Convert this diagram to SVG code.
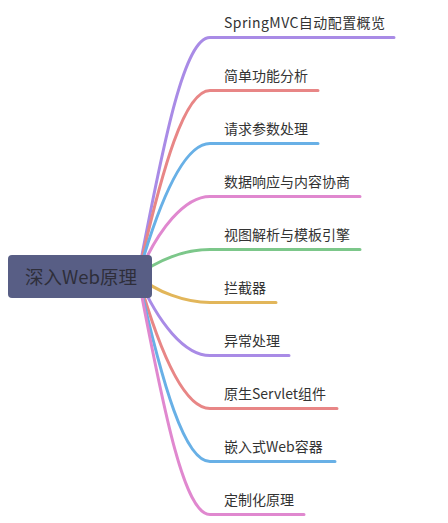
<svg xmlns="http://www.w3.org/2000/svg" width="448" height="523" viewBox="0 0 448 523">
<style>
.c{fill:none;stroke-width:3;stroke-linecap:round;stroke-linejoin:round}
.t{font-family:"Noto Sans CJK SC","Liberation Sans",sans-serif;font-size:14px;fill:#333}
.rt{font-family:"Noto Sans CJK SC","Liberation Sans",sans-serif;font-size:18.5px;fill:#2e2e3a}
</style>
<rect width="448" height="523" fill="#fff"/>
<g id="connectors">
<path class="c" stroke="#a98be6" d="M138 276 C165 132.9 185 37.5 210 37.5 L394 37.5"/>
<path class="c" stroke="#e88686" d="M138 276 C162.8 164.7 185 90.5 210 90.5 L318 90.5"/>
<path class="c" stroke="#68b0e6" d="M138 276 C160.6 196.5 185 143.5 210 143.5 L318 143.5"/>
<path class="c" stroke="#e088cf" d="M138 276 C158.3 228.3 185 196.5 210 196.5 L360 196.5"/>
<path class="c" stroke="#7cc78a" d="M138 276 C156.1 260.1 185 249.5 210 249.5 L360 249.5"/>
<path class="c" stroke="#e2b65a" d="M138 276 C156.1 291.9 185 302.5 210 302.5 L276 302.5"/>
<path class="c" stroke="#a98be6" d="M138 276 C158.3 323.7 185 355.5 210 355.5 L289 355.5"/>
<path class="c" stroke="#e88686" d="M138 276 C160.6 355.5 185 408.5 210 408.5 L337 408.5"/>
<path class="c" stroke="#68b0e6" d="M138 276 C162.8 387.3 185 461.5 210 461.5 L335 461.5"/>
<path class="c" stroke="#e088cf" d="M138 276 C165 419.1 185 514.5 210 514.5 L304 514.5"/>
</g>
<g id="root">
<rect x="8" y="255" width="144" height="43" rx="4" fill="#585e85"/>
<text class="rt" x="25" y="283.5">深入Web原理</text>
</g>
<g id="n1"><text class="t" x="224" y="27.5" textLength="161" lengthAdjust="spacing">SpringMVC自动配置概览</text></g>
<g id="n2"><text class="t" x="224" y="80.5">简单功能分析</text></g>
<g id="n3"><text class="t" x="224" y="133.5">请求参数处理</text></g>
<g id="n4"><text class="t" x="224" y="186.5">数据响应与内容协商</text></g>
<g id="n5"><text class="t" x="224" y="239.5">视图解析与模板引擎</text></g>
<g id="n6"><text class="t" x="224" y="292.5">拦截器</text></g>
<g id="n7"><text class="t" x="224" y="345.5">异常处理</text></g>
<g id="n8"><text class="t" x="224" y="398.5">原生Servlet组件</text></g>
<g id="n9"><text class="t" x="224" y="451.5">嵌入式Web容器</text></g>
<g id="n10"><text class="t" x="224" y="504.5">定制化原理</text></g>
</svg>
